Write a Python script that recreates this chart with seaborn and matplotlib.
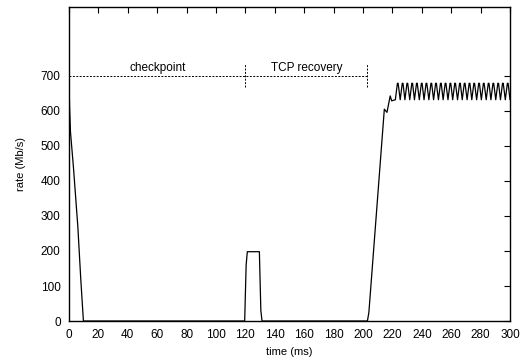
import matplotlib
matplotlib.use("Agg")
import matplotlib.pyplot as plt
import seaborn as sns
import pandas as pd

# ---- data ----
drop_t = [0.0, 0.4, 1.0, 3.0, 6.0, 8.0, 9.8]
drop_rate = [690, 610, 540, 440, 270, 120, 0]

burst_t = [119.5, 120.5, 121.3, 129.5, 130.5, 131.3]
burst_rate = [0, 160, 198, 198, 30, 0]

ramp_t = [203.0, 204.0, 214.5, 216.3, 218.5, 219.5]
ramp_rate = [0, 25, 605, 596, 643, 629]

osc_t = [222.0, 223.4, 223.9, 225.3, 226.7, 227.2, 228.5, 229.9, 230.4,
         231.8, 233.2, 233.7, 235.0, 236.4, 236.9, 238.3, 239.7, 240.2,
         241.5, 242.9, 243.4, 244.8, 246.2, 246.7, 248.0, 249.4, 249.9,
         251.3, 252.7, 253.2, 254.5, 255.9, 256.4, 257.8, 259.2, 259.7,
         261.0, 262.4, 262.9, 264.3, 265.7, 266.2, 267.5, 268.9, 269.4,
         270.8, 272.2, 272.7, 274.0, 275.4, 275.9, 277.3, 278.7, 279.2,
         280.5, 281.9, 282.4, 283.8, 285.2, 285.7, 287.0, 288.4, 288.9,
         290.3, 291.7, 292.2, 293.5, 294.9, 295.4, 296.8, 298.2, 298.7,
         300.0]
osc_rate = [632, 679, 679] * 24 + [632]

phase_labels = ["checkpoint", "TCP recovery"]
phase_bounds = [0, 120, 203]
phase_level = 700

x_ticks = list(range(0, 301, 20))
y_ticks = list(range(0, 701, 100))

time = drop_t + burst_t + ramp_t + osc_t
rate = drop_rate + burst_rate + ramp_rate + osc_rate
df = pd.DataFrame({"time": time, "rate": rate, "order": range(len(time))})

sns.set_style("white")
plt.rcParams["font.family"] = ["Liberation Sans", "DejaVu Sans"]
plt.rcParams["text.color"] = "black"
plt.rcParams["axes.labelcolor"] = "black"
plt.rcParams["xtick.color"] = "black"
plt.rcParams["ytick.color"] = "black"

fig = plt.figure(figsize=(5.2, 3.64), dpi=100)
ax = fig.add_axes([0.1327, 0.1181, 0.8481, 0.8627])

sns.lineplot(data=df, x="time", y="rate", sort=False, estimator=None,
             color="black", linewidth=0.9, ax=ax)

dash = (0, (2.0, 1.5))
ax.hlines(phase_level, phase_bounds[0], phase_bounds[-1], colors="black",
          linewidth=0.7, linestyles=[dash])
for b in phase_bounds[1:]:
    ax.vlines(b, phase_level - 32, phase_level + 35, colors="black",
              linewidth=0.7, linestyles=[dash])
for i, lab in enumerate(phase_labels):
    xc = (phase_bounds[i] + phase_bounds[i + 1]) / 2
    ax.text(xc, phase_level + 5, lab, ha="center", va="bottom", fontsize=8.5)

ax.set_xlim(0, 300)
ax.set_ylim(0, 897)
ax.set_xticks(x_ticks)
ax.set_yticks(y_ticks)
ax.set_xlabel("time (ms)", fontsize=8, labelpad=4)
ax.set_ylabel("rate (Mb/s)", fontsize=8, labelpad=11)
ax.tick_params(direction="in", length=4, width=0.8, labelsize=8.5,
               top=True, right=True, pad=6)
for s in ax.spines.values():
    s.set_linewidth(1.0)
    s.set_color("black")

fig.savefig("out.png", dpi=100)
